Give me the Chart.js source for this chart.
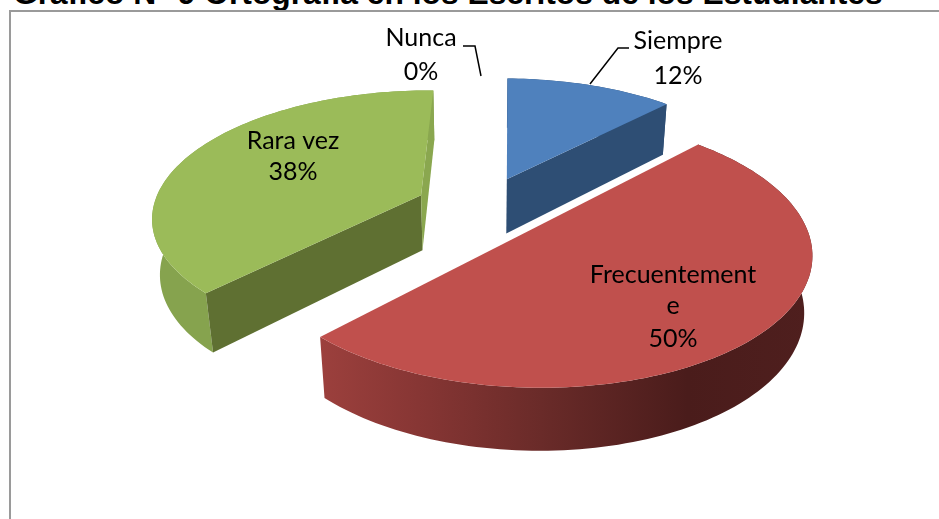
<!DOCTYPE html>
<html>
<head>
<meta charset="utf-8">
<style>
  html, body { margin: 0; padding: 0; background: #fff; overflow: hidden; }
  #wrap { position: relative; width: 939px; height: 519px; overflow: hidden; }
  #myChart { position: absolute; left: 0; top: 0; }
  #frame { position: absolute; left: 9px; top: 10px; width: 950px; height: 530px; border: 2px solid #9a9a9a; box-sizing: border-box; }
  #title { position: absolute; left: 13px; top: -25px; white-space: nowrap; font: bold 31.8px "Liberation Sans", Arial, sans-serif; color: #000; }
</style>
</head>
<body>
<div id="wrap">
  <div id="title">Gráfico N° 9 Ortografía en los Escritos de los Estudiantes</div>
  <div id="frame"></div>
  <canvas id="myChart" width="939" height="519"></canvas>
</div>
<script src="https://cdn.jsdelivr.net/npm/chart.js@4/dist/chart.umd.min.js"></script>
<script>
// Data
const categories = ["Siempre", "Frecuentemente", "Nunca", "Rara vez"];
const percentages = [12, 50, 0, 38];

// Colours of each slice
const topColors = ["#4f81bd", "#c0504d", "#9bbb59", "#9bbb59"];
const wallColors = ["#2e4e74", "#6e2c2a", "#86a34e", "#86a34e"];
const startCutColors = ["#1f3a5a", "#6e2c2a", "#5f7032", "#5f7032"];
const endCutColors = ["#2e4e74", "#6e2c2a", "#8aa74f", "#8aa74f"];

// 3D look: camera used to project the flat arcs of the pie
const camera = { cx: 482, cy: 207, a: 268, b: 125, k: 0.16, depth: 57, shrink: 0.024 };

// Label text lines and where they sit on the page
const labelSpots = [
  { x: 678, ys: [41, 76], lines: ["Siempre"] },
  { x: 673, ys: [275, 306, 339], lines: ["Frecuentement", "e"] },
  { x: 421, ys: [38, 72], lines: ["Nunca"] },
  { x: 293, ys: [141, 172], lines: ["Rara vez"] }
];
const leaders = [
  [[629, 48], [618, 48], [590, 84]],
  [[463, 46], [475, 46], [481, 76]]
];

function project(x, y, z) {
  const w = 1 - camera.k * y + camera.shrink * z;
  return [
    camera.cx + camera.a * x / w,
    camera.cy + (camera.b * y + camera.depth * z) / w
  ];
}

// angle 0 is the top of the pie, going clockwise
function point(arc, e, theta, r, z) {
  const mid = (arc.startAngle + arc.endAngle) / 2 + Math.PI / 2;
  const x = e * Math.sin(mid) + r * Math.sin(theta);
  const y = -e * Math.cos(mid) - r * Math.cos(theta);
  return project(x, y, z);
}

function fillPoly(ctx, pts, color) {
  ctx.beginPath();
  pts.forEach((p, i) => (i ? ctx.lineTo(p[0], p[1]) : ctx.moveTo(p[0], p[1])));
  ctx.closePath();
  ctx.fillStyle = color;
  ctx.fill();
}

// a straight cut shows only if the top face lies above it on the screen
function cutShows(apex, end, inside) {
  const cross = (end[0] - apex[0]) * (inside[1] - apex[1]) - (end[1] - apex[1]) * (inside[0] - apex[0]);
  return (end[0] - apex[0]) >= 0 ? cross < 0 : cross > 0;
}

const pie3d = {
  id: "pie3d",
  beforeDatasetDraw(chart) {
    const ctx = chart.ctx;
    const arcs = chart.getDatasetMeta(0).data;
    arcs.forEach((arc, i) => {
      if (arc.circumference === 0) return;
      const e = (arc.options.offset / 4) / arc.outerRadius;
      const t0 = arc.startAngle + Math.PI / 2;
      const t1 = arc.endAngle + Math.PI / 2;
      const steps = Math.ceil((t1 - t0) * 40);
      const rim = (z) => {
        const out = [];
        for (let s = 0; s <= steps; s++) out.push(point(arc, e, t0 + (t1 - t0) * s / steps, 1, z));
        return out;
      };
      const top = rim(0);
      const low = rim(1);

      // outer wall
      let wallFill = wallColors[i];
      if (i === 1) {
        const g = ctx.createLinearGradient(320, 0, 810, 0);
        g.addColorStop(0, "#9c403d");
        g.addColorStop(0.2, "#873634");
        g.addColorStop(0.45, "#6a2b29");
        g.addColorStop(0.75, "#4a1c1b");
        g.addColorStop(1, "#4f1f1e");
        wallFill = g;
      }
      fillPoly(ctx, top.concat(low.slice().reverse()), wallFill);

      // the two straight cuts
      const apexTop = point(arc, e, 0, 0, 0);
      const apexLow = point(arc, e, 0, 0, 1);
      const inside = top[Math.floor(steps / 2)];
      if (cutShows(apexTop, top[0], inside)) fillPoly(ctx, [apexTop, top[0], low[0], apexLow], startCutColors[i]);
      if (cutShows(apexTop, top[steps], inside)) fillPoly(ctx, [apexTop, top[steps], low[steps], apexLow], endCutColors[i]);

      // top face
      fillPoly(ctx, [apexTop].concat(top), topColors[i]);
    });
    return false;
  },
  afterDatasetsDraw(chart) {
    const ctx = chart.ctx;
    ctx.save();
    ctx.strokeStyle = "#000";
    ctx.lineWidth = 1.5;
    leaders.forEach((line) => {
      ctx.beginPath();
      line.forEach((p, i) => (i ? ctx.lineTo(p[0], p[1]) : ctx.moveTo(p[0], p[1])));
      ctx.stroke();
    });
    ctx.fillStyle = "#000";
    ctx.font = '25px Lato, "Open Sans", sans-serif';
    ctx.textAlign = "center";
    ctx.textBaseline = "middle";
    labelSpots.forEach((spot, i) => {
      const texts = spot.lines.concat([percentages[i] + "%"]);
      texts.forEach((t, j) => ctx.fillText(t, spot.x, spot.ys[j]));
    });
    ctx.restore();
  }
};

const myChart = new Chart(document.getElementById("myChart").getContext("2d"), {
  type: "pie",
  data: {
    labels: categories,
    datasets: [{ data: percentages, offset: 173, borderWidth: 0, backgroundColor: topColors }]
  },
  options: {
    responsive: false,
    animation: false,
    rotation: 1,
    plugins: { legend: { display: false }, tooltip: { enabled: false }, title: { display: false } }
  },
  plugins: [pie3d]
});
</script>
</body>
</html>
